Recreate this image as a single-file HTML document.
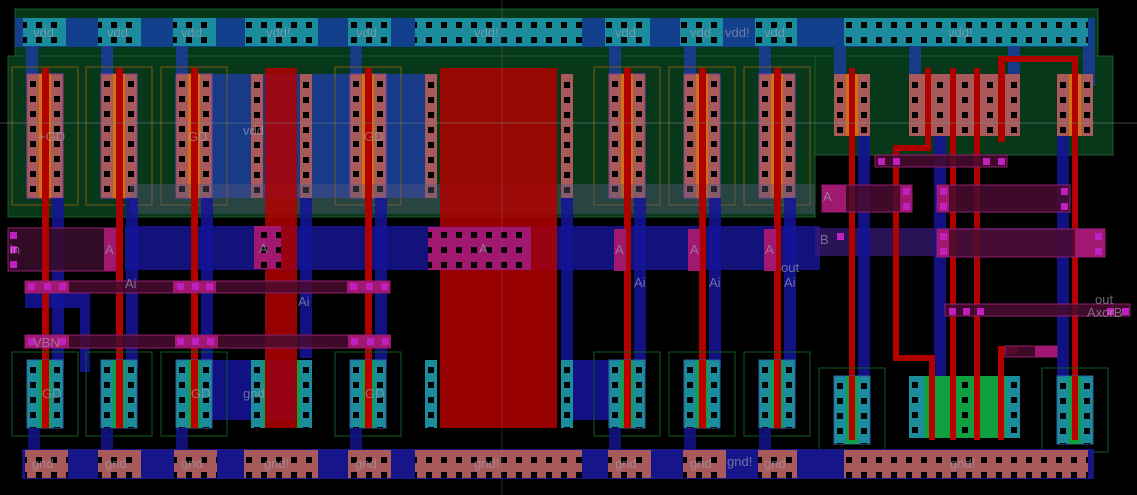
<!DOCTYPE html>
<html><head><meta charset="utf-8"><style>
html,body{margin:0;padding:0;background:#000;width:1137px;height:495px;overflow:hidden}
svg text{font-family:"Liberation Sans",sans-serif;fill:#a0a0b0;fill-opacity:.65}
</style></head><body>
<svg width="1137" height="495" viewBox="0 0 1137 495" xmlns="http://www.w3.org/2000/svg">
<defs>
<pattern id="c" patternUnits="userSpaceOnUse" width="15" height="15" x="2" y="3"><rect x="4" y="4" width="6" height="6" fill="#000"/></pattern>
<pattern id="d" patternUnits="userSpaceOnUse" width="4000" height="15" x="0" y="3"><rect x="0" y="4" width="4000" height="6" fill="#000"/></pattern>
<g id="pm">
<rect x="0" y="0" width="36" height="124" fill="#a85a5a" stroke="#8040a0"/>
<rect x="3" y="0" width="6" height="124" fill="url(#d)"/>
<rect x="27" y="0" width="6" height="124" fill="url(#d)"/>
<rect x="12" y="0" width="12" height="124" fill="#d07010"/>
<rect x="-15" y="-7" width="66" height="138" fill="none" stroke="#7a5a10"/>
</g>
<g id="nm">
<rect x="0" y="0" width="36" height="68" fill="#1a8c9c" stroke="#3060a0"/>
<rect x="3" y="0" width="6" height="68" fill="url(#d)"/>
<rect x="27" y="0" width="6" height="68" fill="url(#d)"/>
<rect x="12" y="0" width="12" height="68" fill="#10a040"/>
<rect x="-15" y="-8" width="66" height="84" fill="none" stroke="#105a20"/>
</g>
</defs>
<rect x="15" y="9" width="1083" height="47" fill="#08381a" stroke="#1a5a2a"/>
<rect x="8" y="56" width="807" height="161" fill="#08381a" stroke="#1a5a2a"/>
<rect x="815" y="56" width="298" height="99" fill="#08381a" stroke="#1a5a2a"/>
<rect x="15" y="18" width="1080" height="29" fill="#12408c"/>
<g fill="#1a8c9c">
<rect x="23" y="18" width="43" height="28"/><rect x="98" y="18" width="43" height="28"/><rect x="173" y="18" width="43" height="28"/>
<rect x="245" y="18" width="73" height="28"/><rect x="348" y="18" width="43" height="28"/><rect x="415" y="18" width="167" height="28"/>
<rect x="605" y="18" width="45" height="28"/><rect x="680" y="18" width="43" height="28"/><rect x="755" y="18" width="42" height="28"/>
<rect x="844" y="18" width="244" height="28"/>
</g>
<g fill="url(#c)">
<rect x="23" y="18" width="43" height="28"/><rect x="98" y="18" width="43" height="28"/><rect x="173" y="18" width="43" height="28"/>
<rect x="245" y="18" width="73" height="28"/><rect x="348" y="18" width="43" height="28"/><rect x="415" y="18" width="167" height="28"/>
<rect x="605" y="18" width="45" height="28"/><rect x="680" y="18" width="43" height="28"/><rect x="755" y="18" width="42" height="28"/>
<rect x="844" y="18" width="244" height="28"/>
</g>
<g fill="#1a3c9a" fill-opacity=".85">
<rect x="26" y="46" width="12" height="40"/><rect x="101" y="46" width="12" height="40"/><rect x="176" y="46" width="12" height="40"/>
<rect x="350" y="46" width="12" height="40"/><rect x="609" y="46" width="12" height="40"/><rect x="684" y="46" width="12" height="40"/>
<rect x="759" y="46" width="12" height="40"/><rect x="834" y="46" width="12" height="40"/><rect x="909" y="46" width="12" height="40"/>
<rect x="1008" y="46" width="12" height="40"/><rect x="1083" y="46" width="12" height="40"/>
<rect x="210" y="74" width="220" height="124"/>
</g>
<use href="#pm" x="27" y="74"/><use href="#pm" x="101" y="74"/><use href="#pm" x="176" y="74"/><use href="#pm" x="350" y="74"/>
<use href="#pm" x="609" y="74"/><use href="#pm" x="684" y="74"/><use href="#pm" x="759" y="74"/>
<g>
<rect x="251" y="74" width="12" height="124" fill="#a85a5a"/><rect x="300" y="74" width="12" height="124" fill="#a85a5a"/>
<rect x="425" y="74" width="12" height="124" fill="#a85a5a"/><rect x="561" y="74" width="12" height="124" fill="#a85a5a"/>
<rect x="254" y="74" width="6" height="124" fill="url(#d)"/><rect x="303" y="74" width="6" height="124" fill="url(#d)"/>
<rect x="428" y="74" width="6" height="124" fill="url(#d)"/><rect x="564" y="74" width="6" height="124" fill="url(#d)"/>
</g>
<g>
<rect x="834" y="74" width="36" height="62" fill="#a85a5a"/><rect x="837" y="74" width="6" height="62" fill="url(#d)"/><rect x="861" y="74" width="6" height="62" fill="url(#d)"/><rect x="846" y="74" width="12" height="62" fill="#d07010"/>
<rect x="909" y="74" width="111" height="62" fill="#a85a5a"/>
<rect x="912" y="74" width="6" height="62" fill="url(#d)"/><rect x="937" y="74" width="6" height="62" fill="url(#d)"/><rect x="962" y="74" width="6" height="62" fill="url(#d)"/><rect x="987" y="74" width="6" height="62" fill="url(#d)"/><rect x="1011" y="74" width="6" height="62" fill="url(#d)"/>
<rect x="1057" y="74" width="36" height="62" fill="#a85a5a"/><rect x="1060" y="74" width="6" height="62" fill="url(#d)"/><rect x="1084" y="74" width="6" height="62" fill="url(#d)"/><rect x="1069" y="74" width="12" height="62" fill="#d07010"/>
</g>
<rect x="130" y="184" width="685" height="30" fill="#5a5a80" fill-opacity=".4"/>
<rect x="125" y="226" width="695" height="44" fill="#12127a"/>
<rect x="815" y="228" width="290" height="28" fill="#3a1a7a" fill-opacity=".7"/>
<g fill="#14149a" fill-opacity=".85">
<rect x="52" y="198" width="12" height="170"/><rect x="126" y="198" width="12" height="170"/><rect x="201" y="198" width="12" height="170"/>
<rect x="300" y="198" width="12" height="160"/><rect x="375" y="198" width="12" height="170"/>
<rect x="561" y="198" width="12" height="170"/><rect x="634" y="198" width="12" height="170"/><rect x="709" y="198" width="12" height="170"/><rect x="784" y="198" width="12" height="170"/>
<rect x="858" y="136" width="12" height="240"/><rect x="934" y="136" width="12" height="240"/><rect x="1057" y="136" width="12" height="240"/>
<rect x="25" y="292" width="55" height="16"/><rect x="80" y="292" width="10" height="80"/>
<rect x="212" y="360" width="100" height="60"/><rect x="573" y="360" width="40" height="60"/>
</g>
<rect x="8" y="228" width="108" height="43" fill="#3a0c2c" fill-opacity=".85" stroke="#902070"/>
<g fill="#b00000">
<rect x="42" y="68" width="7" height="360"/><rect x="116" y="68" width="7" height="360"/><rect x="191" y="68" width="7" height="360"/>
<rect x="365" y="68" width="7" height="360"/><rect x="624" y="68" width="7" height="360"/><rect x="699" y="68" width="7" height="360"/><rect x="774" y="68" width="7" height="360"/>
<rect x="265" y="68" width="32" height="360" fill-opacity=".85"/>
<rect x="440" y="68" width="117" height="360" fill-opacity=".85"/>
<rect x="849" y="68" width="6" height="372"/>
<rect x="925" y="68" width="6" height="80"/><rect x="893" y="145" width="38" height="6"/><rect x="893" y="145" width="6" height="215"/><rect x="893" y="355" width="42" height="6"/><rect x="929" y="355" width="6" height="85"/>
<rect x="950" y="68" width="6" height="372"/><rect x="974" y="68" width="6" height="372"/>
<rect x="998" y="56" width="7" height="86"/><rect x="998" y="56" width="80" height="6"/><rect x="1072" y="56" width="6" height="384"/>
<rect x="998" y="346" width="6" height="94"/><rect x="998" y="346" width="20" height="8"/>
</g>
<g fill="#4a0c30" fill-opacity=".85" stroke="#902070">
<rect x="25" y="281" width="365" height="12"/><rect x="25" y="335" width="365" height="13"/>
<rect x="875" y="155" width="132" height="12"/><rect x="822" y="185" width="90" height="27"/><rect x="937" y="185" width="133" height="27"/>
<rect x="937" y="229" width="168" height="28"/><rect x="945" y="304" width="185" height="12"/>
<rect x="1005" y="346" width="52" height="11"/>
</g>
<g fill="#a01870">
<rect x="25" y="281" width="44" height="12"/><rect x="173" y="281" width="43" height="12"/><rect x="347" y="281" width="43" height="12"/>
<rect x="25" y="335" width="44" height="13"/><rect x="175" y="335" width="43" height="13"/><rect x="348" y="335" width="43" height="13"/>
<rect x="104" y="228" width="12" height="43"/><rect x="254" y="226" width="27" height="43"/><rect x="428" y="227" width="103" height="43"/>
<rect x="614" y="229" width="12" height="42"/><rect x="688" y="229" width="12" height="42"/><rect x="764" y="229" width="12" height="42"/>
<rect x="822" y="185" width="24" height="27"/><rect x="900" y="185" width="12" height="27"/><rect x="937" y="185" width="12" height="27"/>
<rect x="937" y="229" width="12" height="28"/><rect x="1075" y="229" width="30" height="28"/>
<rect x="1035" y="346" width="22" height="11"/>
</g>
<rect x="428" y="227" width="103" height="43" fill="url(#c)"/>
<rect x="254" y="226" width="27" height="43" fill="url(#c)"/>
<g fill="#c020c0">
<rect x="10" y="232" width="7" height="7"/><rect x="10" y="246" width="7" height="7"/><rect x="10" y="261" width="7" height="7"/>
<rect x="28" y="283" width="7" height="7"/><rect x="44" y="283" width="7" height="7"/><rect x="59" y="283" width="7" height="7"/>
<rect x="177" y="283" width="7" height="7"/><rect x="192" y="283" width="7" height="7"/><rect x="206" y="283" width="7" height="7"/>
<rect x="350" y="283" width="7" height="7"/><rect x="366" y="283" width="7" height="7"/><rect x="381" y="283" width="7" height="7"/>
<rect x="28" y="338" width="7" height="7"/><rect x="59" y="338" width="7" height="7"/>
<rect x="177" y="338" width="7" height="7"/><rect x="192" y="338" width="7" height="7"/><rect x="207" y="338" width="7" height="7"/>
<rect x="351" y="338" width="7" height="7"/><rect x="367" y="338" width="7" height="7"/><rect x="382" y="338" width="7" height="7"/>
<rect x="878" y="158" width="7" height="7"/><rect x="893" y="158" width="7" height="7"/><rect x="983" y="158" width="7" height="7"/><rect x="998" y="158" width="7" height="7"/>
<rect x="903" y="188" width="7" height="7"/><rect x="903" y="203" width="7" height="7"/><rect x="940" y="188" width="7" height="7"/><rect x="940" y="203" width="7" height="7"/>
<rect x="1061" y="188" width="7" height="7"/><rect x="1061" y="203" width="7" height="7"/>
<rect x="837" y="233" width="7" height="7"/><rect x="940" y="233" width="7" height="7"/><rect x="940" y="248" width="7" height="7"/><rect x="1095" y="233" width="7" height="7"/><rect x="1095" y="248" width="7" height="7"/>
<rect x="949" y="308" width="7" height="7"/><rect x="963" y="308" width="7" height="7"/><rect x="977" y="308" width="7" height="7"/><rect x="1107" y="308" width="7" height="7"/><rect x="1122" y="308" width="7" height="7"/>
</g>
<use href="#nm" x="27" y="360"/><use href="#nm" x="101" y="360"/><use href="#nm" x="176" y="360"/><use href="#nm" x="350" y="360"/>
<use href="#nm" x="609" y="360"/><use href="#nm" x="684" y="360"/><use href="#nm" x="759" y="360"/>
<g>
<rect x="251" y="360" width="12" height="68" fill="#1a8c9c"/><rect x="300" y="360" width="12" height="68" fill="#1a8c9c"/>
<rect x="425" y="360" width="12" height="68" fill="#1a8c9c"/><rect x="561" y="360" width="12" height="68" fill="#1a8c9c"/>
<rect x="254" y="360" width="6" height="68" fill="url(#d)"/><rect x="303" y="360" width="6" height="68" fill="url(#d)"/>
<rect x="428" y="360" width="6" height="68" fill="url(#d)"/><rect x="564" y="360" width="6" height="68" fill="url(#d)"/>
<rect x="263" y="360" width="2" height="68" fill="#10a040"/><rect x="297" y="360" width="3" height="68" fill="#10a040"/>
</g>
<use href="#nm" x="834" y="376"/><use href="#nm" x="1057" y="376"/>
<rect x="909" y="376" width="111" height="62" fill="#1a8c9c"/>
<rect x="924" y="376" width="82" height="62" fill="#10a040"/>
<rect x="912" y="376" width="6" height="62" fill="url(#d)"/><rect x="962" y="376" width="6" height="62" fill="url(#d)"/><rect x="1011" y="376" width="6" height="62" fill="url(#d)"/>
<g fill="#c00000"><rect x="849" y="376" width="6" height="64"/><rect x="929" y="376" width="6" height="64"/><rect x="950" y="376" width="6" height="64"/><rect x="974" y="376" width="6" height="64"/><rect x="998" y="376" width="6" height="64"/><rect x="1072" y="376" width="6" height="64"/>
<rect x="42" y="360" width="7" height="68"/><rect x="116" y="360" width="7" height="68"/><rect x="191" y="360" width="7" height="68"/><rect x="365" y="360" width="7" height="68"/><rect x="624" y="360" width="7" height="68"/><rect x="699" y="360" width="7" height="68"/><rect x="774" y="360" width="7" height="68"/></g>
<g fill="#14148a" fill-opacity=".85">
<rect x="28" y="428" width="12" height="22"/><rect x="101" y="428" width="12" height="22"/><rect x="176" y="428" width="12" height="22"/><rect x="350" y="428" width="12" height="22"/><rect x="609" y="428" width="12" height="22"/><rect x="684" y="428" width="12" height="22"/><rect x="759" y="428" width="12" height="22"/>
</g>
<rect x="22" y="449" width="1072" height="30" fill="#16168a"/>
<g fill="#a85a5a">
<rect x="25" y="450" width="43" height="28"/><rect x="98" y="450" width="43" height="28"/><rect x="174" y="450" width="43" height="28"/>
<rect x="244" y="450" width="74" height="28"/><rect x="348" y="450" width="43" height="28"/><rect x="415" y="450" width="167" height="28"/>
<rect x="608" y="450" width="43" height="28"/><rect x="683" y="450" width="43" height="28"/><rect x="758" y="450" width="39" height="28"/>
<rect x="844" y="450" width="244" height="28"/>
</g>
<g fill="url(#c)">
<rect x="25" y="450" width="43" height="28"/><rect x="98" y="450" width="43" height="28"/><rect x="174" y="450" width="43" height="28"/>
<rect x="244" y="450" width="74" height="28"/><rect x="348" y="450" width="43" height="28"/><rect x="415" y="450" width="167" height="28"/>
<rect x="608" y="450" width="43" height="28"/><rect x="683" y="450" width="43" height="28"/><rect x="758" y="450" width="39" height="28"/>
<rect x="844" y="450" width="244" height="28"/>
</g>
<line x1="0" y1="123" x2="1137" y2="123" stroke="#888" stroke-opacity=".5"/>
<line x1="502" y1="0" x2="502" y2="495" stroke="#888" stroke-opacity=".3"/>
<g font-size="13">
<text x="33" y="37">vdd</text><text x="107" y="37">vdd</text><text x="181" y="37">vdd</text><text x="266" y="37">vdd!</text><text x="356" y="37">vdd</text>
<text x="474" y="37">vdd!</text><text x="615" y="37">vdd</text><text x="690" y="37">vdd</text><text x="725" y="37">vdd!</text><text x="764" y="37">vdd</text><text x="948" y="37">vdd!</text>
<text x="243" y="135">vdd</text><text x="38" y="141">+GD</text><text x="188" y="141">GD</text><text x="364" y="141">GD</text>
<text x="10" y="254">in</text><text x="105" y="254">A</text><text x="259" y="253">A</text><text x="479" y="253">A</text><text x="615" y="254">A</text><text x="690" y="254">A</text><text x="765" y="254">A</text>
<text x="125" y="288">Ai</text><text x="298" y="306">Ai</text><text x="634" y="287">Ai</text><text x="709" y="287">Ai</text><text x="784" y="287">Ai</text><text x="781" y="272">out</text>
<text x="823" y="201">A</text><text x="820" y="244">B</text><text x="1095" y="304">out</text><text x="1087" y="317">AxorB</text>
<text x="33" y="347">VBN</text>
<text x="42" y="398">GD</text><text x="191" y="398">GD</text><text x="243" y="398">gnd</text><text x="365" y="398">GD</text>
<text x="32" y="468">gnd</text><text x="105" y="468">gnd</text><text x="181" y="468">gnd</text><text x="264" y="468">gnd!</text><text x="355" y="468">gnd</text><text x="474" y="468">gnd!</text>
<text x="615" y="468">gnd</text><text x="690" y="468">gnd</text><text x="727" y="466">gnd!</text><text x="764" y="468">gnd</text><text x="950" y="468">gnd!</text>
</g>
</svg>
</body></html>
